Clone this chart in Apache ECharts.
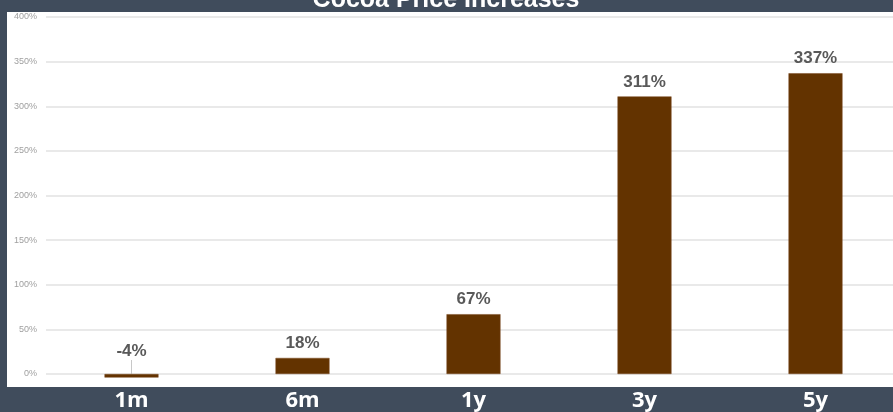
<!DOCTYPE html>
<html>
<head>
<meta charset="utf-8">
<script src="https://cdn.jsdelivr.net/npm/echarts@6/dist/echarts.min.js"></script>
<style>
html,body{margin:0;padding:0;background:#404c5c;overflow:hidden;width:893px;height:412px;}
#panel{position:absolute;left:7px;top:12px;width:900px;height:375px;background:#ffffff;}
#chart{position:absolute;left:0;top:0;width:910px;height:412px;}
</style>
</head>
<body>
<div id="panel"></div>
<div id="chart"></div>
<script>
const titleText = 'Cocoa Price Increases';
const categories = ['1m', '6m', '1y', '3y', '5y'];
const values = [-4, 18, 67, 311, 337];
const yTicks = [0, 50, 100, 150, 200, 250, 300, 350, 400];

const seriesData = values.map((v, i) => v < 0
  ? {value: v, labelLine: {show: true}}
  : {value: v});

const chart = echarts.init(document.getElementById('chart'), null, {renderer: 'canvas'});
chart.setOption({
  backgroundColor: 'transparent',
  animation: false,
  graphic: [{
    type: 'text',
    x: 446,
    y: 13,
    style: {
      text: titleText,
      fill: '#ffffff',
      font: 'bold 25px "Liberation Sans", Arial, sans-serif',
      align: 'center',
      verticalAlign: 'bottom'
    }
  }],
  grid: {left: 46, right: 9, top: 17, bottom: 38},
  xAxis: {
    type: 'category',
    data: categories,
    axisLine: {show: false},
    axisTick: {show: false},
    axisLabel: {
      color: '#ffffff', fontSize: 22, fontWeight: 'bold',
      fontFamily: 'Open Sans, sans-serif', margin: 16
    }
  },
  yAxis: {
    type: 'value',
    min: yTicks[0],
    max: yTicks[yTicks.length - 1],
    interval: 50,
    axisLine: {show: false},
    axisTick: {show: false},
    splitLine: {lineStyle: {color: '#e2e2e2', width: 1.5}},
    axisLabel: {
      color: '#a0a0a0', fontSize: 9, margin: 9,
      fontFamily: 'Liberation Sans, Arial, sans-serif',
      formatter: v => v + '%'
    }
  },
  series: [{
    type: 'bar',
    data: seriesData,
    barWidth: 54,
    clip: false,
    itemStyle: {color: '#633300', borderColor: '#7a4a20', borderWidth: 0.5},
    label: {
      show: true,
      position: 'top',
      distance: 6,
      color: '#595959',
      fontSize: 17,
      fontWeight: 'bold',
      fontFamily: 'Liberation Sans, Arial, sans-serif',
      formatter: p => p.value + '%'
    },
    labelLayout: p => p.dataIndex === 0 ? {dy: -8} : {},
    labelLine: {show: false, length2: 0, lineStyle: {color: '#c8c8c8', width: 1}}
  }]
});
</script>
</body>
</html>
